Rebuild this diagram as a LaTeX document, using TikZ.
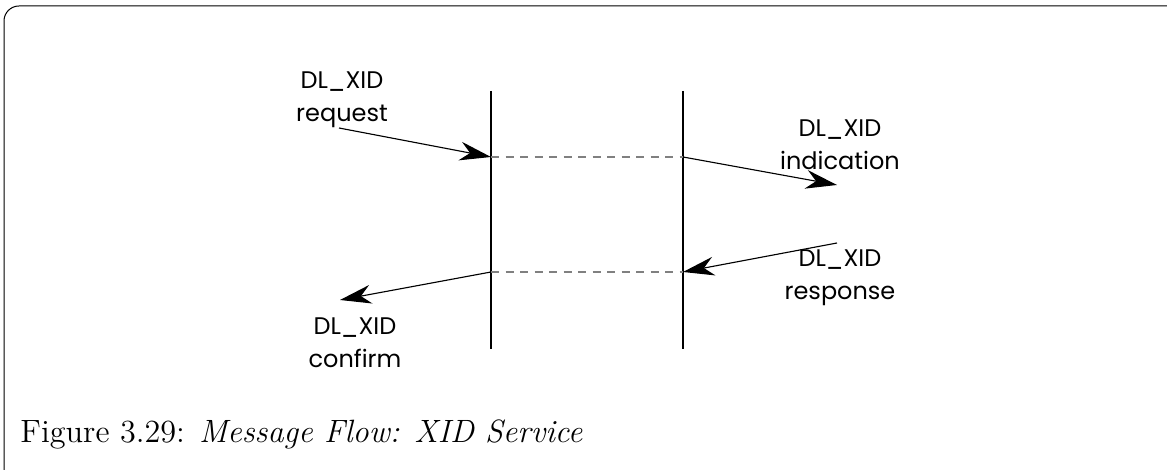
\documentclass[tikz,border=0pt]{standalone}
\usepackage{fontspec}
\newfontfamily\labelfont{Poppins}
\usetikzlibrary{arrows.meta}
\begin{document}
\begin{tikzpicture}[x=0.4pt,y=-0.4pt,
  lifeline/.style={line width=0.8pt},
  msg/.style={line width=0.45pt,-{Stealth[length=12.5pt,width=7.5pt,inset=4pt]}},
  link/.style={line width=0.45pt,gray,dash pattern=on 3.2pt off 2.6pt},
  lbl/.style={font=\labelfont\fontsize{9.6}{10}\selectfont,align=center,inner sep=0pt}]
  \useasboundingbox (0,0) rectangle (1167,470);
  % outer frame, running past the right and bottom edges
  \begin{scope}
    \clip (0,0) rectangle (1167,470);
    \draw[line width=0.4pt,rounded corners=6pt] (4,6) rectangle (1185,492);
  \end{scope}
  % the two service interfaces
  \coordinate (lt) at (491,91);  \coordinate (lb) at (491,349);
  \coordinate (rt) at (683,91);  \coordinate (rb) at (683,349);
  \draw[lifeline] (lt) -- (lb);
  \draw[lifeline] (rt) -- (rb);
  % message end points
  \coordinate (l1) at (491,157); \coordinate (r1) at (683,157);
  \coordinate (l2) at (491,272); \coordinate (r2) at (683,272);
  \coordinate (reqS) at (339,128);
  \coordinate (indE) at (837,185);
  \coordinate (rspS) at (837,243);
  \coordinate (cnfE) at (340,300);
  \draw[link] (l1) -- (r1);
  \draw[link] (l2) -- (r2);
  \draw[msg] (reqS) -- (l1);
  \draw[msg] (r1) -- (indE);
  \draw[msg] (rspS) -- (r2);
  \draw[msg] (l2) -- (cnfE);
  % labels
  \node[lbl] (req) at (342,100) {DL\_XID\\[3pt]request};
  \node[lbl] (ind) at (840,145) {DL\_XID\\[3pt]indication};
  \node[lbl] (rsp) at (840,278) {DL\_XID\\[3pt]response};
  \node[lbl] (cnf) at (355,343) {DL\_XID\\[3pt]confirm};
  % caption
  \node[anchor=base west,inner sep=0pt,font=\fontsize{12.9}{15}\selectfont] (cap) at (20,443)
    {Figure 3.29: \textit{Message Flow: XID Service}};
\end{tikzpicture}
\end{document}
